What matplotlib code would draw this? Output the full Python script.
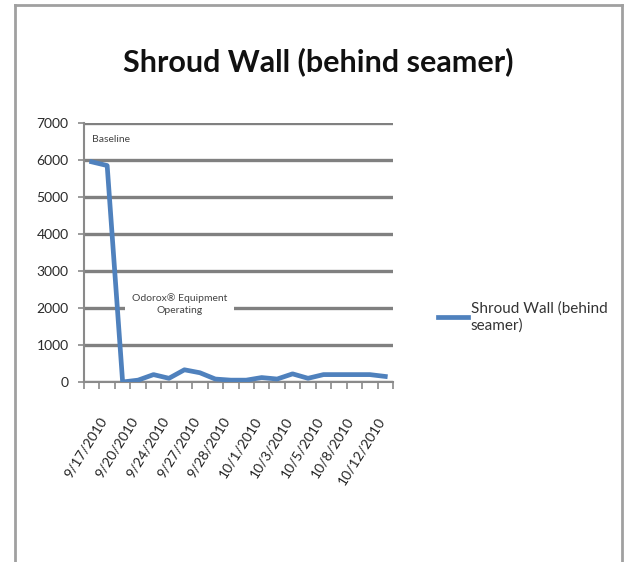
import matplotlib
matplotlib.use("Agg")
import matplotlib.pyplot as plt
from matplotlib.transforms import ScaledTranslation

# --- data ---
dates = ["9/17/2010", "9/18/2010", "9/20/2010", "9/22/2010", "9/24/2010",
         "9/25/2010", "9/27/2010", "9/27/2010", "9/28/2010", "9/30/2010",
         "10/1/2010", "10/2/2010", "10/3/2010", "10/4/2010", "10/5/2010",
         "10/7/2010", "10/8/2010", "10/11/2010", "10/12/2010", "10/13/2010"]
shroud_wall = [5950, 5850, 0, 50, 200, 100, 330, 250, 80, 50,
               50, 120, 80, 220, 100, 200, 200, 200, 200, 150]
tick_labels = ["9/17/2010", "9/20/2010", "9/24/2010", "9/27/2010", "9/28/2010",
               "10/1/2010", "10/3/2010", "10/5/2010", "10/8/2010", "10/12/2010"]
y_ticks = [0, 1000, 2000, 3000, 4000, 5000, 6000, 7000]

plt.rcParams["font.family"] = ["Lato", "DejaVu Sans"]

fig = plt.figure(figsize=(6.25, 5.62), dpi=100)

# outer chart border (no bottom edge visible)
border = dict(color="#a0a0a0", lw=2.0, transform=fig.transFigure)
fig.add_artist(plt.Line2D([15 / 625, 15 / 625], [0, 1 - 5 / 562], **border))
fig.add_artist(plt.Line2D([15 / 625, 622 / 625], [1 - 5 / 562, 1 - 5 / 562], **border))
fig.add_artist(plt.Line2D([622 / 625, 622 / 625], [0, 1 - 5 / 562], **border))

ax = fig.add_axes([84 / 625, 1 - 382 / 562, (393 - 84) / 625, (382 - 123) / 562])

x = list(range(len(shroud_wall)))
line, = ax.plot(x, shroud_wall, color="#4F81BD", lw=3.4, solid_joinstyle="round",
                label="Shroud Wall (behind\nseamer)", zorder=4)

ax.set_xlim(-0.5, len(shroud_wall) - 0.5)
ax.set_ylim(0, 7000)
ax.set_yticks(y_ticks)
ax.set_yticklabels([str(v) for v in y_ticks], fontsize=10, color="#2a2a2a")
ax.yaxis.grid(True, color="#808080", lw=2.4)
ax.set_axisbelow(True)

# ticks between categories, labels on every other category
ax.set_xticks([i - 0.5 for i in range(len(shroud_wall) + 1)])
ax.set_xticklabels([])
ax.set_xticks(list(range(0, len(shroud_wall), 2)), minor=True)
ax.set_xticklabels(tick_labels, minor=True, rotation=58, ha="right",
                   rotation_mode="anchor", fontsize=10, color="#222222")
ax.tick_params(axis="x", which="major", length=5, width=1.2, color="#8a8a8a", direction="out")
ax.tick_params(axis="x", which="minor", length=0, pad=24)
ax.tick_params(axis="y", length=4, width=1.2, color="#8a8a8a", pad=7)
# nudge rotated date labels to the right (after tick_params, which resets transforms)
shift = ScaledTranslation(7 / 100, 0, fig.dpi_scale_trans)
for lbl in ax.get_xticklabels(minor=True):
    lbl.set_transform(lbl.get_transform() + shift)

for s in ["top", "right"]:
    ax.spines[s].set_visible(False)
ax.spines["left"].set_color("#8a8a8a")
ax.spines["bottom"].set_color("#8a8a8a")
ax.spines["left"].set_linewidth(1.5)
ax.spines["bottom"].set_linewidth(1.5)

ax.text(0.05, 6550, "Baseline", fontsize=7.5, color="#444444", va="center")
ax.text(5.7, 2100, "Odorox\u00ae Equipment\nOperating", fontsize=7.5, color="#444444",
        ha="center", va="center", linespacing=1.5, zorder=3,
        bbox=dict(facecolor="white", edgecolor="none", pad=5))

fig.text(318 / 625, 1 - 62 / 562, "Shroud Wall (behind seamer)", fontsize=22,
         fontweight="bold", ha="center", va="center", color="#111111")

fig.legend(handles=[line], loc="center left", bbox_to_anchor=(424 / 625, 1 - 317 / 562),
           frameon=False, fontsize=11, handlelength=2.0, handletextpad=0.15,
           labelcolor="#333333")

fig.savefig("out.png", dpi=100)
